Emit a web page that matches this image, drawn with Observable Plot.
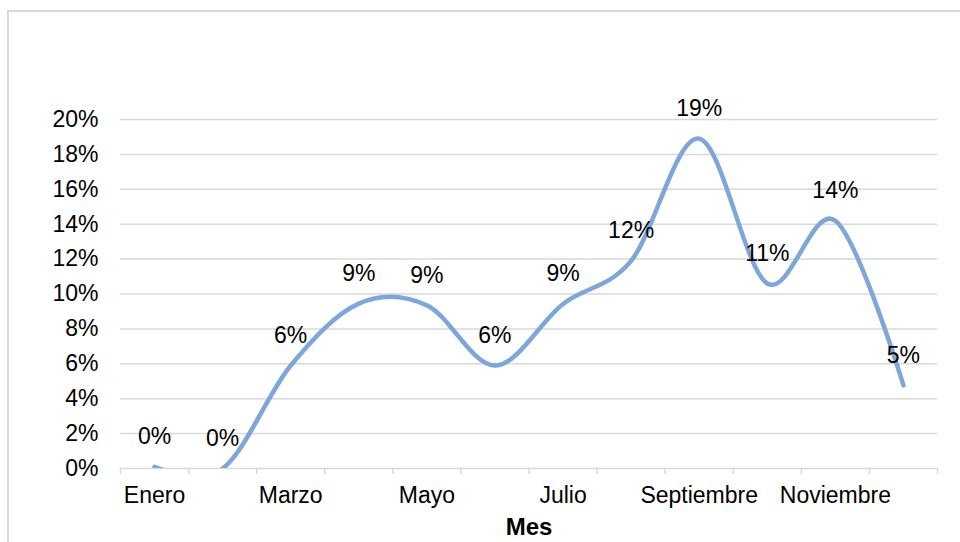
<!DOCTYPE html>
<html>
<head>
<meta charset="utf-8">
<script src="https://cdn.jsdelivr.net/npm/d3@7"></script>
<script src="https://cdn.jsdelivr.net/npm/@observablehq/plot@0.6"></script>
<style>
  html, body { margin: 0; padding: 0; background: #fff; overflow: hidden; }
  #wrap { position: relative; width: 960px; height: 542px; }
  #frame { position: absolute; left: 7px; top: 10px; width: 1000px; height: 600px; border: 2px solid #d9d9d9; box-sizing: border-box; }
  #chart { position: absolute; left: 0; top: 0; }
  #chart svg { font-family: "Liberation Sans", Arial, sans-serif; }
  #chart g[aria-label="x-axis label"] text { font-weight: bold; font-size: 24px; }
</style>
</head>
<body>
<div id="wrap"><div id="frame"></div><div id="chart"></div></div>
<script>
const months = ["Enero","Febrero","Marzo","Abril","Mayo","Junio","Julio","Agosto","Septiembre","Octubre","Noviembre","Diciembre"];
const values = [0.001, 0.000, 0.059, 0.0945, 0.0935, 0.059, 0.0943, 0.119, 0.189, 0.106, 0.142, 0.0476];
const yTicks = [0, 0.02, 0.04, 0.06, 0.08, 0.10, 0.12, 0.14, 0.16, 0.18, 0.20];
const labeledMonths = ["Enero","Marzo","Mayo","Julio","Septiembre","Noviembre"];

const data = months.map((m, i) => ({mes: m, idx: i, valor: values[i]}));
const boundaries = months.map((m, i) => i - 0.5).concat([months.length - 0.5]);
const labelIdx = labeledMonths.map(m => months.indexOf(m));
const pct = d3.format(".0%");

const chart = Plot.plot({
  width: 960,
  height: 542,
  marginLeft: 120,
  marginRight: 23,
  marginTop: 119,
  marginBottom: 74,
  style: {fontFamily: "Liberation Sans, Arial, sans-serif", fontSize: "23px", color: "#000", background: "transparent"},
  x: {type: "linear", domain: [-0.5, months.length - 0.5]},
  y: {domain: [0, 0.2]},
  marks: [
    Plot.gridY(yTicks, {stroke: "#d9d9d9", strokeOpacity: 1, strokeWidth: 1.5}),
    Plot.axisY(yTicks, {tickSize: 0, tickPadding: 22, tickFormat: pct, fontSize: 23, fill: "#000", label: null}),
    Plot.axisX(boundaries, {tickSize: 6, stroke: "#d9d9d9", strokeWidth: 1.5, strokeOpacity: 1, tickFormat: () => "", label: null}),
    Plot.axisX(labelIdx, {tickSize: 0, tickPadding: 18, tickFormat: i => months[i], fontSize: 23, fill: "#000",
      label: "Mes", labelAnchor: "center", labelOffset: 66, labelArrow: "none"}),
    Plot.line(data, {x: "idx", y: "valor", curve: "cardinal", stroke: "#7ea6d8", strokeWidth: 4.5, clip: true}),
    Plot.text(data, {x: "idx", y: "valor", text: d => pct(d.valor), dy: -30, fontSize: 23, fill: "#000"})
  ]
});
document.getElementById("chart").appendChild(chart);
</script>
</body>
</html>
